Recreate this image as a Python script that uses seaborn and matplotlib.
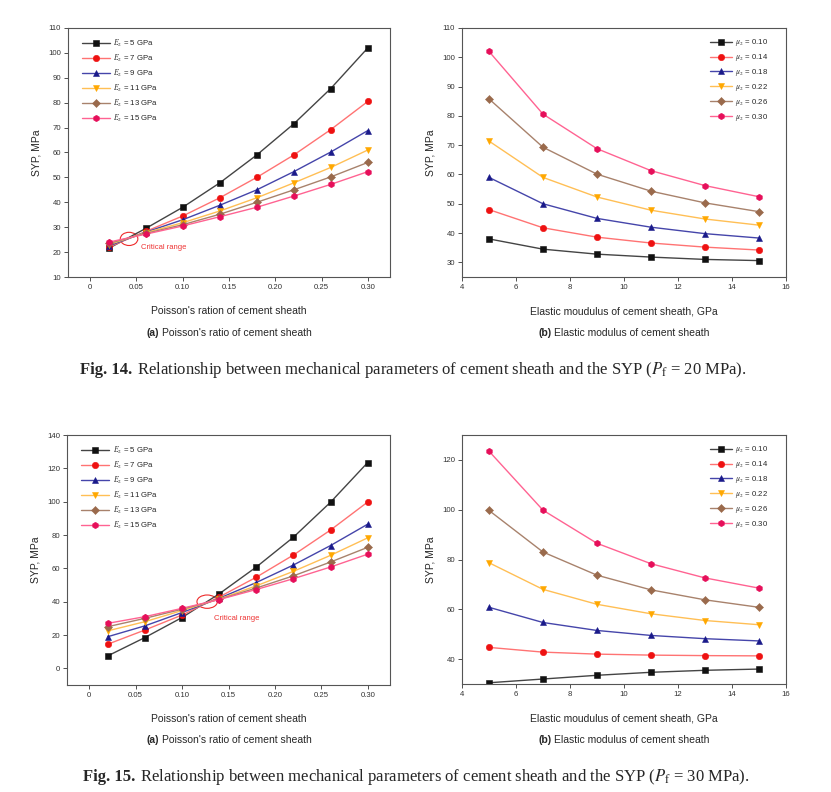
import matplotlib
matplotlib.use('Agg')
import matplotlib.pyplot as plt
from matplotlib.patches import Ellipse
import seaborn as sns

sns.set_theme(style='white')
plt.rcParams['font.family'] = ['Liberation Sans', 'DejaVu Sans']
plt.rcParams['mathtext.fontset'] = 'stix'

# x values
poisson = [0.02, 0.06, 0.10, 0.14, 0.18, 0.22, 0.26, 0.30]
modulus = [5, 7, 9, 11, 13, 15]

e_labels = ['$E_2$ = 5 GPa', '$E_2$ = 7 GPa', '$E_2$ = 9 GPa',
            '$E_2$ = 11 GPa', '$E_2$ = 13 GPa', '$E_2$ = 15 GPa']
mu_labels = ['$\\mu_2$ = 0.10', '$\\mu_2$ = 0.14', '$\\mu_2$ = 0.18',
             '$\\mu_2$ = 0.22', '$\\mu_2$ = 0.26', '$\\mu_2$ = 0.30']

# Fig 14 (Pf = 20 MPa), SYP vs poisson ratio, one row per E2
syp20_poisson = [
    [21.5, 29.5, 38.0, 47.8, 59.0, 71.5, 85.7, 102.0],
    [22.0, 28.3, 34.5, 41.8, 50.0, 59.0, 69.2, 80.5],
    [22.5, 28.0, 33.0, 38.8, 45.0, 52.3, 60.2, 68.8],
    [23.0, 27.8, 31.8, 36.5, 41.8, 47.8, 54.0, 61.0],
    [23.5, 27.5, 31.0, 35.2, 40.0, 45.0, 50.2, 56.0],
    [24.0, 27.2, 30.5, 34.2, 38.0, 42.5, 47.2, 52.3],
]
# Fig 14, SYP vs elastic modulus, one row per mu2
syp20_modulus = [
    [38.0, 34.5, 32.8, 31.8, 31.0, 30.6],
    [48.0, 41.8, 38.6, 36.6, 35.2, 34.2],
    [59.0, 50.0, 45.0, 42.0, 39.8, 38.3],
    [71.4, 59.0, 52.3, 47.8, 44.8, 42.7],
    [85.8, 69.3, 60.1, 54.3, 50.3, 47.3],
    [102.0, 80.6, 68.8, 61.3, 56.2, 52.4],
]
# Fig 15 (Pf = 30 MPa)
syp30_poisson = [
    [7.5, 18.5, 30.5, 44.7, 60.8, 78.7, 99.7, 123.5],
    [14.5, 23.0, 32.0, 42.8, 54.7, 68.0, 83.0, 99.8],
    [19.0, 25.5, 33.5, 42.0, 51.5, 62.0, 73.7, 86.5],
    [22.5, 28.0, 34.7, 41.6, 49.5, 58.2, 67.8, 78.3],
    [25.0, 30.0, 35.5, 41.4, 48.2, 55.5, 63.8, 72.6],
    [27.0, 31.0, 36.0, 41.3, 47.3, 53.8, 60.8, 68.5],
]
syp30_modulus = [
    [30.5, 32.0, 33.5, 34.7, 35.5, 36.0],
    [44.7, 42.8, 42.0, 41.6, 41.4, 41.3],
    [60.8, 54.7, 51.5, 49.5, 48.2, 47.3],
    [78.7, 68.0, 62.0, 58.2, 55.5, 53.8],
    [99.7, 83.0, 73.7, 67.8, 63.8, 60.8],
    [123.5, 99.8, 86.5, 78.3, 72.6, 68.5],
]

markers = ['s', 'o', '^', 'v', 'D', 'h']
marker_colors = ['#111111', '#ee1111', '#1a1a8a', '#ffa800', '#9a6a4c', '#e60f5a']
line_colors = ['#444444', '#ff7373', '#4545aa', '#ffbf55', '#a8826c', '#ff6392']

W, H = 831, 792
fig = plt.figure(figsize=(W / 100, H / 100), dpi=100)


def make_axes(left, right, top, bottom):
    return fig.add_axes([left / W, 1 - bottom / H, (right - left) / W, (bottom - top) / H])


def draw_panel(ax, x, rows, labels, legend_loc):
    for i, ys in enumerate(rows):
        sns.lineplot(x=x, y=ys, ax=ax, color=line_colors[i], linewidth=1.0,
                     marker=markers[i], markersize=4.6 if markers[i] != 'D' else 4.0,
                     markerfacecolor=marker_colors[i], markeredgecolor=marker_colors[i],
                     markeredgewidth=0.4, label=labels[i], legend=False)
    for s in ax.spines.values():
        s.set_color('#555555')
        s.set_linewidth(0.8)
    ax.tick_params(direction='out', length=3, width=0.6, labelsize=5.6, pad=2,
                   bottom=True, left=True, colors='#333333')
    if legend_loc == 'left':
        ax.legend(loc='upper left', bbox_to_anchor=(0.035, 0.975), frameon=False,
                  fontsize=5.6, handlelength=3.6, handletextpad=0.4,
                  labelspacing=0.5, borderaxespad=0)
    else:
        ax.legend(loc='upper right', bbox_to_anchor=(0.955, 0.975), frameon=False,
                  fontsize=5.6, handlelength=2.8, handletextpad=0.4,
                  labelspacing=0.5, borderaxespad=0)
    ax.set_ylabel('SYP, MPa', fontsize=7.5, labelpad=5)


def caption(x_center, y, bold, rest, size, family, left=False):
    t1 = fig.text(0, y, bold, fontsize=size, fontweight='bold', family=family, va='center')
    t2 = fig.text(0, y, rest, fontsize=size, family=family, va='center')
    fig.canvas.draw()
    r = fig.canvas.get_renderer()
    w1 = t1.get_window_extent(r).width / W
    w2 = t2.get_window_extent(r).width / W
    gap = size * 0.3 / W * 100 / 72
    x0 = x_center if left else x_center - (w1 + gap + w2) / 2
    t1.set_x(x0)
    t2.set_x(x0 + w1 + gap)


# top left
ax1 = make_axes(68, 390, 28, 277)
draw_panel(ax1, poisson, syp20_poisson, e_labels, 'left')
ax1.set_xlim(-0.024, 0.324)
ax1.set_ylim(10, 110)
ax1.set_xticks([0, 0.05, 0.10, 0.15, 0.20, 0.25, 0.30])
ax1.set_xticklabels(['0', '0.05', '0.10', '0.15', '0.20', '0.25', '0.30'])
ax1.set_yticks(range(10, 111, 10))
ax1.set_xlabel("Poisson's ration of cement sheath", fontsize=7.5, labelpad=11)
ax1.add_patch(Ellipse((0.042, 25.3), 0.019, 5.3, fill=False, edgecolor='#ee2a2a', lw=0.8))
ax1.text(0.055, 21.8, 'Critical range', fontsize=5.5, color='#ee3333', va='center')

# top right
ax2 = make_axes(462, 786, 28, 277)
draw_panel(ax2, modulus, syp20_modulus, mu_labels, 'right')
ax2.set_xlim(4, 16)
ax2.set_ylim(25, 110)
ax2.set_xticks(range(4, 17, 2))
ax2.set_yticks(range(30, 111, 10))
ax2.set_xlabel('Elastic moudulus of cement sheath, GPa', fontsize=7.5, labelpad=11)

# bottom left
ax3 = make_axes(67, 390, 435, 685)
draw_panel(ax3, poisson, syp30_poisson, e_labels, 'left')
ax3.set_xlim(-0.024, 0.324)
ax3.set_ylim(-10, 140)
ax3.set_xticks([0, 0.05, 0.10, 0.15, 0.20, 0.25, 0.30])
ax3.set_xticklabels(['0', '0.05', '0.10', '0.15', '0.20', '0.25', '0.30'])
ax3.set_yticks(range(0, 141, 20))
ax3.set_xlabel("Poisson's ration of cement sheath", fontsize=7.5, labelpad=11)
ax3.add_patch(Ellipse((0.127, 40.0), 0.022, 8.0, fill=False, edgecolor='#ee2a2a', lw=0.8))
ax3.text(0.134, 29.6, 'Critical range', fontsize=5.5, color='#ee3333', va='center')

# bottom right
ax4 = make_axes(462, 786, 435, 684)
draw_panel(ax4, modulus, syp30_modulus, mu_labels, 'right')
ax4.set_xlim(4, 16)
ax4.set_ylim(30, 130)
ax4.set_xticks(range(4, 17, 2))
ax4.set_yticks(range(40, 121, 20))
ax4.set_xlabel('Elastic moudulus of cement sheath, GPa', fontsize=7.5, labelpad=11)

caption(229 / W, 1 - 333 / H, '(a)', "Poisson's ratio of cement sheath", 7.5, 'Liberation Sans')
caption(624 / W, 1 - 333 / H, '(b)', 'Elastic modulus of cement sheath', 7.5, 'Liberation Sans')
caption(229 / W, 1 - 740 / H, '(a)', "Poisson's ratio of cement sheath", 7.5, 'Liberation Sans')
caption(624 / W, 1 - 740 / H, '(b)', 'Elastic modulus of cement sheath', 7.5, 'Liberation Sans')

caption(80 / W, 1 - 370 / H, 'Fig. 14.',
        'Relationship between mechanical parameters of cement sheath and the SYP ($P_\\mathrm{f}$ = 20 MPa).',
        12, 'Liberation Serif', left=True)
caption(83 / W, 1 - 777 / H, 'Fig. 15.',
        'Relationship between mechanical parameters of cement sheath and the SYP ($P_\\mathrm{f}$ = 30 MPa).',
        12, 'Liberation Serif', left=True)

fig.savefig('out.png', dpi=100)
